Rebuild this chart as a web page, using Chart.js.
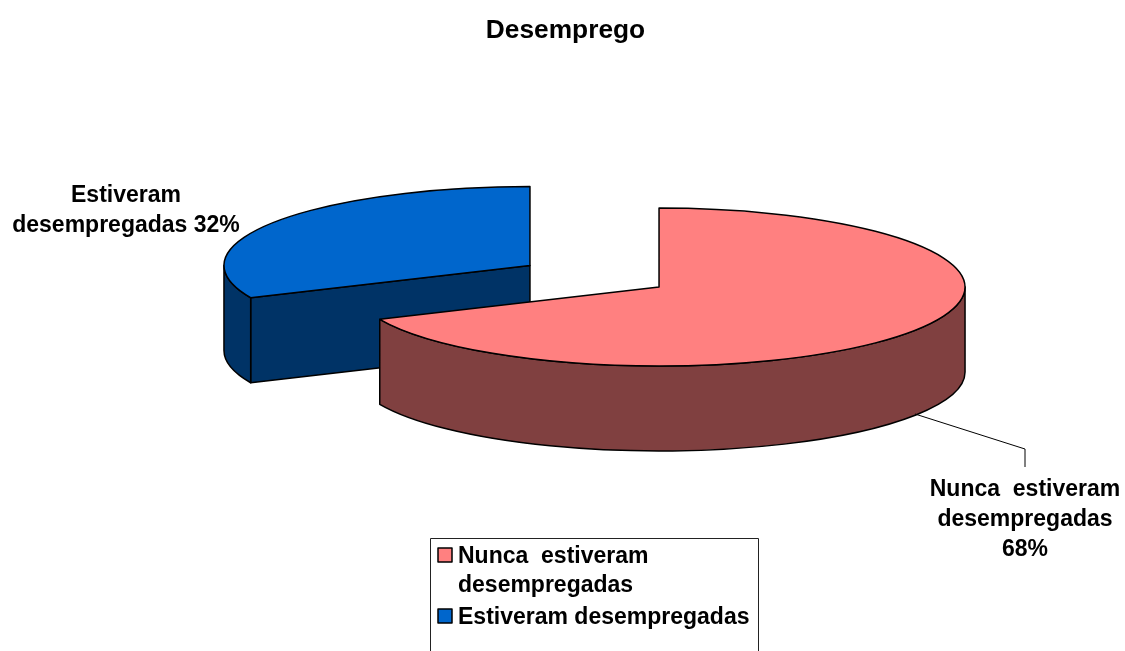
<!DOCTYPE html>
<html>
<head>
<meta charset="utf-8">
<style>
  html, body { margin: 0; background: #fff; overflow: hidden; }
  canvas { display: block; }
</style>
<script src="https://cdn.jsdelivr.net/npm/chart.js@4"></script>
</head>
<body>
<canvas id="Desemprego" width="1125" height="651"></canvas>
<script>
const Titulo = 'Desemprego';
const Categorias = [['Nunca  estiveram', 'desempregadas'], ['Estiveram desempregadas']];
const Rotulos = [['Nunca  estiveram', 'desempregadas', '68%'], ['Estiveram', 'desempregadas 32%']];
const Valores = [68.3, 31.7];
const Cores = ['#FF8080', '#0066CC'];
const CoresLado = ['#804040', '#003366'];

const FONTE = '"Liberation Sans", Arial, sans-serif';
const RAIO = 306;
const ACHATAR = 0.258;   // ellipse height / width
const ALTURA = 85;       // thickness of the pie
const EXPLODE = 76.9;

// ellipse centre of a slice, pushed out along its middle angle
function centro(el) {
    const meio = (el.startAngle + el.endAngle) / 2;
    return {
        x: el.x + 29 + Math.cos(meio) * EXPLODE,
        y: el.y + Math.sin(meio) * EXPLODE * ACHATAR
    };
}

function pintar(ctx, cor) {
    ctx.fillStyle = cor;
    ctx.fill();
    ctx.strokeStyle = '#000';
    ctx.lineWidth = 1.5;
    ctx.lineJoin = 'round';
    ctx.stroke();
}

const pizza3d = {
    id: 'pizza3d',
    beforeDatasetDraw(chart) {
        const ctx = chart.ctx;
        const arcos = chart.getDatasetMeta(0).data;
        const ry = RAIO * ACHATAR;
        // slices further back first
        [1, 0].forEach(i => {
            const el = arcos[i];
            const c = centro(el);
            const ini = el.startAngle, fim = el.endAngle;

            // cut face, only when it looks towards the viewer
            if (Math.cos(ini) < -0.01) {
                const px = c.x + Math.cos(ini) * RAIO;
                const py = c.y + Math.sin(ini) * ry;
                ctx.beginPath();
                ctx.moveTo(c.x, c.y);
                ctx.lineTo(px, py);
                ctx.lineTo(px, py + ALTURA);
                ctx.lineTo(c.x, c.y + ALTURA);
                ctx.closePath();
                pintar(ctx, CoresLado[i]);
            }

            // rim, front half of the ellipse
            const a = Math.max(ini, 0), b = Math.min(fim, Math.PI);
            if (a < b) {
                ctx.beginPath();
                ctx.ellipse(c.x, c.y, RAIO, ry, 0, a, b);
                ctx.ellipse(c.x, c.y + ALTURA, RAIO, ry, 0, b, a, true);
                ctx.closePath();
                pintar(ctx, CoresLado[i]);
            }

            // top
            ctx.beginPath();
            ctx.moveTo(c.x, c.y);
            ctx.ellipse(c.x, c.y, RAIO, ry, 0, ini, fim);
            ctx.closePath();
            pintar(ctx, Cores[i]);
        });
        return false;
    },
    afterDraw(chart) {
        const ctx = chart.ctx;
        ctx.save();
        ctx.font = 'bold 23px ' + FONTE;
        ctx.fillStyle = '#000';
        ctx.textBaseline = 'middle';

        // leader line
        ctx.beginPath();
        ctx.moveTo(915, 414);
        ctx.lineTo(1025, 449);
        ctx.lineTo(1025, 467);
        ctx.strokeStyle = '#000';
        ctx.lineWidth = 1;
        ctx.stroke();

        // data labels
        ctx.textAlign = 'center';
        Rotulos[0].forEach((t, n) => ctx.fillText(t, 1025, 489.5 + n * 30));
        ctx.fillText(Rotulos[1][0], 126, 196);
        ctx.fillText(Rotulos[1][1], 126, 226);

        // legend box, open at the bottom edge of the picture
        ctx.strokeStyle = '#222';
        ctx.strokeRect(430.5, 538.5, 328, 120);
        ctx.textAlign = 'left';
        let y = 555;
        Categorias.forEach((linhas, i) => {
            ctx.fillStyle = Cores[i];
            ctx.fillRect(438, y - 7, 14, 14);
            ctx.strokeStyle = '#000';
            ctx.lineWidth = 1.5;
            ctx.strokeRect(438, y - 7, 14, 14);
            ctx.fillStyle = '#000';
            linhas.forEach(t => {
                ctx.fillText(t, 458, y + 1.5);
                y += 29;
            });
            y += 3;
        });
        ctx.restore();
    }
};

new Chart(document.getElementById('Desemprego'), {
    type: 'pie',
    data: {
        labels: Categorias,
        datasets: [{
            data: Valores,
            backgroundColor: Cores,
            radius: RAIO
        }]
    },
    plugins: [pizza3d],
    options: {
        responsive: false,
        animation: false,
        layout: { padding: { left: 6, bottom: 145 } },
        plugins: {
            title: {
                display: true,
                text: Titulo,
                color: '#000',
                font: { family: FONTE, size: 26.3, weight: 'bold' },
                padding: { top: 15, bottom: 0 }
            },
            legend: { display: false },
            tooltip: { enabled: false }
        }
    }
});
</script>
</body>
</html>
